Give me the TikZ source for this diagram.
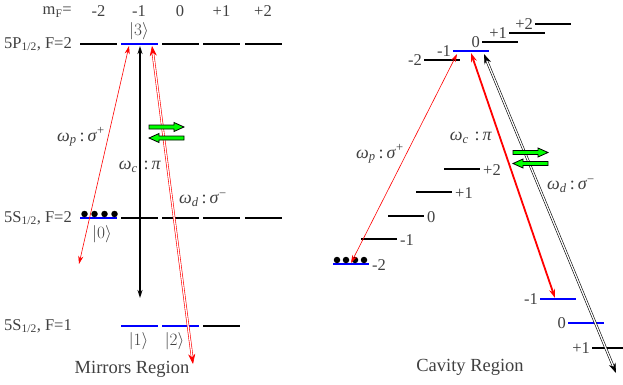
\documentclass[tikz,border=0pt]{standalone}
\usepackage{fontspec}
\setmainfont{Liberation Serif}
\usetikzlibrary{arrows.meta,calc}
\definecolor{txt}{HTML}{404040}
\definecolor{lvblue}{RGB}{0,0,255}
\definecolor{grn}{RGB}{0,255,0}
\begin{document}
\begin{tikzpicture}[x=1pt,y=-1pt,
  lvl/.style={line width=1.2pt, black},
  lvb/.style={line width=2.8pt, lvblue},
  lab/.style={font=\fontsize{16.5}{18}\selectfont, text=txt, inner sep=0},
  mlab/.style={font=\fontsize{18}{20}\selectfont, text=txt, inner sep=0},
  reg/.style={font=\fontsize{18.5}{20}\selectfont, text=txt, inner sep=0},
  redthin/.style={red, line width=0.6pt, {Stealth[length=8pt,width=5pt]}-{Stealth[length=8pt,width=5pt]}},
  redthick/.style={red, line width=1.8pt, {Stealth[length=9pt,width=6pt]}-{Stealth[length=9pt,width=6pt]}},
  blkthick/.style={black, line width=1.4pt, {Stealth[length=8pt,width=5pt]}-{Stealth[length=8pt,width=5pt]}},
  reddouble/.style={red, line width=0.6pt, double=white, double distance=1.3pt, {Stealth[length=10pt,width=7pt]}-{Stealth[length=10pt,width=7pt]}},
  blkdouble/.style={black, line width=0.6pt, double=white, double distance=1.3pt, {Stealth[length=10pt,width=7pt]}-{Stealth[length=10pt,width=7pt]}},
  greenarrow/.style={fill=grn, draw=black, line width=0.8pt},
  dot/.style={circle, fill=black, inner sep=0, minimum size=6.5pt}
]
\useasboundingbox (0,0) rectangle (623,385);

% ---------------- Left: Mirrors Region ----------------
\node[lab, anchor=east] (mf) at (72,12) {m\textsubscript{F}=};
\foreach \x/\t/\n in {98.5/-2/a,139/-1/b,180/0/c,221.5/+1/d,263/+2/e}
  \node[lab] (mf\n) at (\x,11) {\t};

\node[lab, anchor=east] (lP) at (72,44) {5P\textsubscript{1/2}, F=2};
\node[lab, anchor=east] (lS2) at (72,218) {5S\textsubscript{1/2}, F=2};
\node[lab, anchor=east] (lS1) at (72,326) {5S\textsubscript{1/2}, F=1};

% 5P levels
\foreach \x/\n in {80/a,121/b,162/c,203/d,245/e}{
  \coordinate (P\n L) at (\x,44); \coordinate (P\n R) at (\x+37,44);}
\foreach \n in {a,c,d,e} \draw[lvl] (P\n L) -- (P\n R);
\draw[lvb] (PbL) -- (PbR);
% 5S F=2 levels
\foreach \x/\n in {80/a,121/b,162/c,203/d,245/e}{
  \coordinate (S\n L) at (\x,218); \coordinate (S\n R) at (\x+37,218);}
\foreach \n in {b,c,d,e} \draw[lvl] (S\n L) -- (S\n R);
\draw[lvb] (SaL) -- (SaR);
% 5S F=1 levels
\foreach \x/\n in {121/b,162/c,203/d}{
  \coordinate (T\n L) at (\x,326); \coordinate (T\n R) at (\x+37,326);}
\draw[lvb] (TbL) -- (TbR);
\draw[lvb] (TcL) -- (TcR);
\draw[lvl] (TdL) -- (TdR);

% atoms
\foreach \x/\n in {84.5/1,94.5/2,104.5/3,114.5/4} \node[dot] (ld\n) at (\x,214) {};

% kets
\node[lab] (k3) at (139,31) {$|3\rangle$};
\node[lab] (k0) at (102,234) {$|0\rangle$};
\node[lab] (k1) at (138.5,341) {$|1\rangle$};
\node[lab] (k2) at (174.5,341) {$|2\rangle$};

% arrows
\coordinate (pTop) at (129,46); \coordinate (pBot) at (79,264);
\draw[redthin] (pBot) -- (pTop);
\coordinate (cTop) at (140,46); \coordinate (cBot) at (140,298);
\draw[blkthick] (cBot) -- (cTop);
\coordinate (dTop) at (152,46); \coordinate (dBot) at (193,364);
\draw[reddouble] (dBot) -- (dTop);

\node[mlab] (wp) at (81,137) {\textit{ω}\textsubscript{\textit{p}}\,:\,\textit{σ}\textsuperscript{+}};
\node[mlab] (wc) at (140,167) {\textit{ω}\textsubscript{\textit{c}}\,\,:\,\textit{π}};
\node[mlab] (wd) at (203,200) {\textit{ω}\textsubscript{\textit{d}}\,:\,\textit{σ}\textsuperscript{−}};

\draw[greenarrow] (149,125) -- (174,125) -- (174,122.5) -- (184,127) -- (174,131.5) -- (174,129) -- (149,129) -- cycle;
\draw[greenarrow] (184,136) -- (159,136) -- (159,133.5) -- (149,138) -- (159,142.5) -- (159,140) -- (184,140) -- cycle;

\node[reg] (mr) at (132,369) {Mirrors Region};

% ---------------- Right: Cavity Region ----------------
% 5P staircase
\foreach \x/\y/\t/\n in {424/60/-2/a,453/51/-1/b,482/42/0/c,509/33/+1/d,535/24/+2/e}{
  \coordinate (Q\n L) at (\x,\y); \coordinate (Q\n R) at (\x+36,\y);
  \node[lab, anchor=east] (Qlab\n) at (\x-2,\y) {\t};}
\foreach \n in {a,c,d,e} \draw[lvl] (Q\n L) -- (Q\n R);
\draw[lvb] (QbL) -- (QbR);

% 5S F=2 staircase
\foreach \x/\y/\t/\n in {333/264/-2/a,361/239/-1/b,388/216/0/c,416/192/+1/d,444/169/+2/e}{
  \coordinate (U\n L) at (\x,\y); \coordinate (U\n R) at (\x+36,\y);
  \node[lab, anchor=west] (Ulab\n) at (\x+39,\y+1) {\t};}
\foreach \n in {b,c,d,e} \draw[lvl] (U\n L) -- (U\n R);
\draw[lvb] (UaL) -- (UaR);
\foreach \x/\n in {337/1,346/2,355/3,364/4} \node[dot] (rd\n) at (\x,260) {};

% 5S F=1 staircase
\foreach \x/\y/\t/\n in {540/299/-1/a,568/323/0/b,592/348/+1/c}{
  \coordinate (V\n L) at (\x,\y); \coordinate (V\n R) at (\x+36,\y);
  \node[lab, anchor=east] (Vlab\n) at (\x-2,\y) {\t};}
\draw[lvb] (VaL) -- (VaR);
\draw[lvb] (VbL) -- (VbR);
\draw[lvl] (VcL) -- (VcR);

% arrows
\coordinate (rpTop) at (457,54); \coordinate (rpBot) at (351,263);
\draw[redthin] (rpBot) -- (rpTop);
\coordinate (rcTop) at (471,53); \coordinate (rcBot) at (555,298);
\draw[redthick] (rcBot) -- (rcTop);
\coordinate (rdTop) at (484,54); \coordinate (rdBot) at (616,373);
\draw[blkdouble] (rdBot) -- (rdTop);

\node[mlab] (rwp) at (380,154) {\textit{ω}\textsubscript{\textit{p}}\,:\,\textit{σ}\textsuperscript{+}};
\node[mlab] (rwc) at (471,138) {\textit{ω}\textsubscript{\textit{c}}\,\,:\,\textit{π}};
\node[mlab] (rwd) at (571,186) {\textit{ω}\textsubscript{\textit{d}}\,:\,\textit{σ}\textsuperscript{−}};

\draw[greenarrow] (513,150.5) -- (538,150.5) -- (538,148) -- (548,152.5) -- (538,157) -- (538,154.5) -- (513,154.5) -- cycle;
\draw[greenarrow] (548,161.5) -- (523,161.5) -- (523,159) -- (513,163.5) -- (523,168) -- (523,165.5) -- (548,165.5) -- cycle;

\node[reg] (cr) at (470,367) {Cavity Region};
\end{tikzpicture}
\end{document}
